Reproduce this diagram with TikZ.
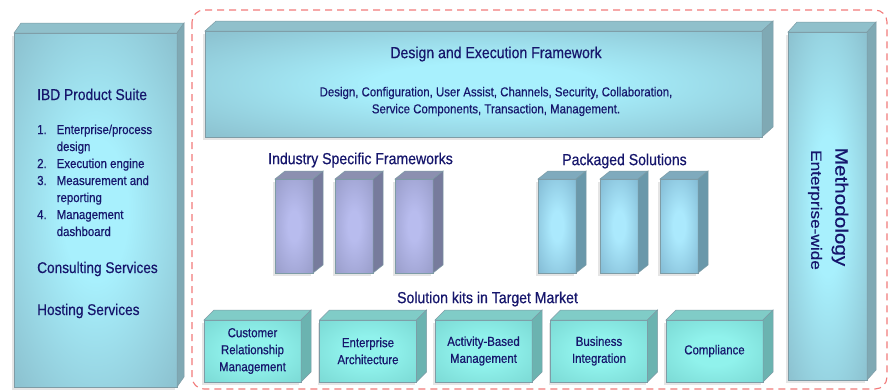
\documentclass[tikz,border=0pt]{standalone}
\usepackage{fontspec}
\setmainfont{Liberation Sans}[FakeStretch=0.88, FakeBold=0.5]
\newfontfamily\widefont{Liberation Sans}[FakeStretch=1.15, FakeBold=0.5]
\usetikzlibrary{positioning,shadows}

\definecolor{inkblue}{HTML}{16166C}
\definecolor{edgegray}{HTML}{7E9CA6}
\definecolor{facelight}{HTML}{A8F0FD}
\definecolor{facedark}{HTML}{8DC3D1}
\definecolor{facetop}{HTML}{90C0CB}
\definecolor{faceside}{HTML}{7FA9B4}
\definecolor{violetlight}{HTML}{B8BCEE}
\definecolor{violetdark}{HTML}{9A9ECB}
\definecolor{violettop}{HTML}{8C90B0}
\definecolor{violetside}{HTML}{777B9C}
\definecolor{skylight}{HTML}{ABE9FD}
\definecolor{skydark}{HTML}{85BDD6}
\definecolor{skytop}{HTML}{7FAABD}
\definecolor{skyside}{HTML}{6A98AA}
\definecolor{kitlight}{HTML}{90F2EC}
\definecolor{kitdark}{HTML}{7BD9D4}
\definecolor{kittop}{HTML}{80CCC7}
\definecolor{kitside}{HTML}{6BB3B0}
\definecolor{framered}{HTML}{F27A7A}

\pgfdeclareradialshading{facefade}{\pgfpoint{0bp}{0bp}}%
  {color(0bp)=(facelight); color(10bp)=(facelight); color(34bp)=(facedark); color(50bp)=(facedark)}
\pgfdeclareradialshading{violetfade}{\pgfpoint{0bp}{0bp}}%
  {color(0bp)=(violetlight); color(8bp)=(violetlight); color(34bp)=(violetdark); color(50bp)=(violetdark)}
\pgfdeclareradialshading{skyfade}{\pgfpoint{0bp}{0bp}}%
  {color(0bp)=(skylight); color(8bp)=(skylight); color(34bp)=(skydark); color(50bp)=(skydark)}
\pgfdeclareradialshading{kitfade}{\pgfpoint{0bp}{0bp}}%
  {color(0bp)=(kitlight); color(12bp)=(kitlight); color(36bp)=(kitdark); color(50bp)=(kitdark)}

\newcommand\boxdepth[5]{%
  \filldraw[draw=edgegray, fill=#4, line width=.5pt]
    (#1.north west) -- ([shift={(#2,-#3)}]#1.north west)
    -- ([shift={(#2,-#3)}]#1.north east) -- (#1.north east) -- cycle;
  \filldraw[draw=edgegray, fill=#5, line width=.5pt]
    (#1.north east) -- ([shift={(#2,-#3)}]#1.north east)
    -- ([shift={(#2,-#3)}]#1.south east) -- (#1.south east) -- cycle;
}

\tikzset{
  face/.style={draw=edgegray, line width=.5pt, shading=facefade,
    inner sep=0pt, outer sep=0pt, anchor=north west,
    drop shadow={shadow xshift=-2pt, shadow yshift=-3pt, opacity=.2}},
  framecol/.style={face, shading=violetfade, minimum width=38pt, minimum height=94pt},
  solcol/.style={face, shading=skyfade, minimum width=38pt, minimum height=94pt},
  kit/.style={face, shading=kitfade, minimum width=97pt, minimum height=62pt,
    align=center, text=inkblue, font=\fontsize{13}{17}\selectfont},
  caption/.style={text=inkblue, inner sep=0pt},
}

\begin{document}
\begin{tikzpicture}[x=1pt,y=-1pt]
\useasboundingbox[fill=white] (0,0) rectangle (888,391);

\draw[framered, line width=1.1pt, dash pattern=on 7pt off 5pt, rounded corners=12pt]
  (192,10) rectangle (887,389);

\node[face, minimum width=163pt, minimum height=354pt] (suite) at (14,33) {};
\node[face, minimum width=557pt, minimum height=106pt] (engine) at (205,31) {};
\node[face, minimum width=79pt, minimum height=348pt] (method) at (788,32) {};

\node[framecol] (ind1) at (275,179) {};
\node[framecol] (ind2) at (335,179) {};
\node[framecol] (ind3) at (395,179) {};
\node[solcol] (pkg1) at (538,179) {};
\node[solcol] (pkg2) at (600,179) {};
\node[solcol] (pkg3) at (660,179) {};

\node[kit] (crm) at (204,320) {Customer\\Relationship\\Management};
\node[kit] (arch) at (319.5,320) {Enterprise\\Architecture};
\node[kit] (abm) at (435,320) {Activity-Based\\Management};
\node[kit] (integ) at (550.5,320) {Business\\Integration};
\node[kit] (compl) at (666,320) {Compliance};

\boxdepth{suite}{7}{10}{facetop}{faceside}
\boxdepth{engine}{11}{10}{facetop}{faceside}
\boxdepth{method}{9}{10}{facetop}{faceside}
\foreach \c in {ind1,ind2,ind3}
  \boxdepth{\c}{10}{8}{violettop}{violetside};
\foreach \c in {pkg1,pkg2,pkg3}
  \boxdepth{\c}{10}{8}{skytop}{skyside};
\foreach \c in {crm,arch,abm,integ,compl}
  \boxdepth{\c}{10}{10}{kittop}{kitside};

\begin{scope}[every node/.style={caption, anchor=base west}]
  \node[font=\fontsize{15.7}{18}\selectfont] (suitetitle) at (37,100) {IBD Product Suite};
  \node[font=\fontsize{13}{17}\selectfont] (suitelist) at (37,134)
    {\begin{tabular}[t]{@{}l@{\hspace{10pt}}l@{}}
      1. & Enterprise/process\\
         & design\\
      2. & Execution engine\\
      3. & Measurement and\\
         & reporting\\
      4. & Management\\
         & dashboard
     \end{tabular}};
  \node[font=\fontsize{15.5}{18}\selectfont] (consult) at (37,273) {Consulting Services};
  \node[font=\fontsize{15.5}{18}\selectfont] (hosting) at (37,315) {Hosting Services};
\end{scope}

\begin{scope}[every node/.style={caption, font=\fontsize{16}{18}\selectfont}]
  \node (enginetitle) at (496,54) {Design and Execution Framework};
  \node[font=\fontsize{13}{17}\selectfont, align=center] (enginetext) at (496,101.5)
    {Design, Configuration, User Assist, Channels, Security, Collaboration,\\
     Service Components, Transaction, Management.};
  \node (indtitle) at (360.5,160) {Industry Specific Frameworks};
  \node (pkgtitle) at (624.5,161) {Packaged Solutions};
  \node (kittitle) at (487.5,299) {Solution kits in Target Market};
\end{scope}

\begin{scope}[every node/.style={caption, rotate=-90}]
  \node[font=\widefont\fontsize{18}{20}\selectfont] (methtitle) at (840,207) {Methodology};
  \node[font=\widefont\fontsize{15}{18}\selectfont] (methsub) at (815,210) {Enterprise-wide};
\end{scope}

\end{tikzpicture}
\end{document}
